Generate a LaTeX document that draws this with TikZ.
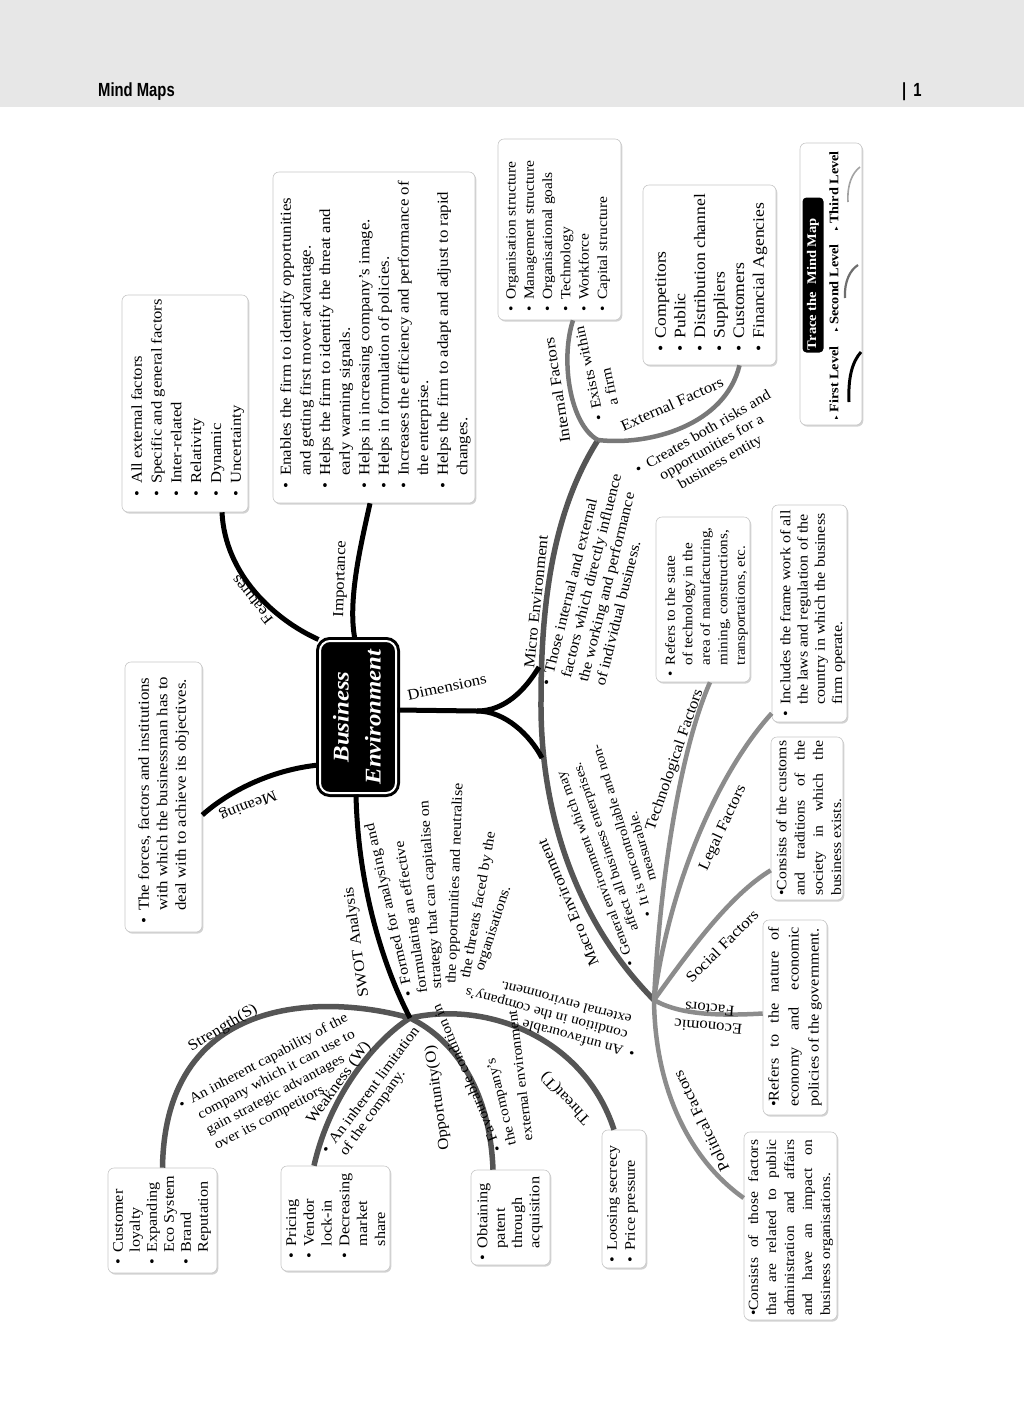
\documentclass[tikz,border=0pt]{standalone}
\usepackage{fontspec}
\setmainfont[FakeStretch=1.1]{Liberation Serif}
\newfontfamily\hdrfont[FakeStretch=0.78]{Liberation Sans}
\newfontfamily\symfont{DejaVu Sans}
\usetikzlibrary{shadows,calc}
\definecolor{hdrgray}{RGB}{231,231,231}
\definecolor{lvtwo}{RGB}{85,85,85}
\definecolor{lvint}{RGB}{120,120,120}
\definecolor{lvthree}{RGB}{140,140,140}
\newcommand\fz[2]{\fontsize{#1}{#2}\selectfont}
\newcommand\bu{\makebox[0.85em][l]{\textbullet}}
\newcommand\ii{\hspace*{0.85em}}
\newcommand\jl[2]{\makebox[#1][s]{#2}}
\begin{document}
\begin{tikzpicture}[x=1pt,y=-1pt,
 card/.style={draw=black!22, line width=0.6pt, fill=white, rounded corners=6pt, drop shadow={shadow xshift=1.3pt, shadow yshift=-1.6pt, opacity=0.35}, inner sep=0pt},
 vtxt/.style={rotate=90, anchor=north west, align=left, inner sep=0pt},
 lab/.style={font=\fz{15.3}{18}, inner sep=0pt},
 dtxt/.style={font=\fz{14.5}{17}, inner sep=0pt, align=left},
 first/.style={draw=black, line width=5pt},
 second/.style={draw=lvtwo, line width=5.5pt},
 thirdi/.style={draw=lvint, line width=4.5pt},
 third/.style={draw=lvthree, line width=4.5pt},
 lvtext/.style={rotate=90, inner sep=0pt, font=\bfseries\fz{13}{14}},
]
\useasboundingbox (0,0) rectangle (1024,1409);
\fill[white] (0,0) rectangle (1024,1409);
% header
\fill[hdrgray] (0,0) rectangle (1024,107);
\node[anchor=base west, inner sep=0pt, font=\hdrfont\bfseries\fz{19}{20}] (hdr) at (98,96) {Mind Maps};
\node[anchor=base west, inner sep=0pt, font=\hdrfont\bfseries\fz{19}{20}] (pgno) at (902,96) {|\hspace{7pt}1};
% legend
\node[card, minimum width=62, minimum height=282] (legbox) at (831,284) {};
\node[fill=black, rounded corners=4pt, minimum width=21, minimum height=155, inner sep=0pt] (pill) at (813,275) {};
\node[rotate=90, text=white, inner sep=0pt, font=\bfseries\fz{13.2}{14}] (trace) at (813,284) {Trace the\ \ Mind Map};
\node[lvtext] (lvA) at (834,383) {{\symfont\fz{7}{8}▸} First Level};
\node[lvtext] (lvB) at (834,288) {{\symfont\fz{7}{8}▸} Second Level};
\node[lvtext] (lvC) at (834,191) {{\symfont\fz{7}{8}▸} Third Level};
\draw[black, line width=3pt] (849,402) .. controls (848,378) and (852,362) .. (861,352);
\draw[lvtwo!85, line width=2.2pt] (845,298) .. controls (844,282) and (850,270) .. (858,265);
\draw[lvthree!80, line width=1.6pt] (848,202) .. controls (847,185) and (852,173) .. (860,167);

% boxes
\node[card, minimum width=126, minimum height=217] (featbox) at (185,403.5) {};
\node[vtxt, font=\fz{15.1}{19.8}] (feattxt) at (131,497) {\bu All external factors\\\bu Specific and general factors\\\bu Inter-related\\\bu Relativity\\\bu Dynamic\\\bu Uncertainty};

\node[card, minimum width=202, minimum height=331] (impbox) at (374,337.5) {};
\node[vtxt, font=\fz{15.3}{19.6}] (imptxt) at (280,489) {\bu Enables the firm to identify opportunities\\\ii and getting first mover advantage.\\\bu Helps the firm to identify the threat and\\\ii early warning signals.\\\bu Helps in increasing company’s image.\\\bu Helps in formulation of policies.\\\bu Increases the efficiency and performance of\\\ii the enterprise.\\\bu Helps the firm to adapt and adjust to rapid\\\ii changes.};

\node[card, minimum width=123, minimum height=181] (intlbox) at (559.5,229.5) {};
\node[vtxt, font=\fz{14.1}{18.3}] (intltxt) at (506,312) {\bu Organisation structure\\\bu Management structure\\\bu Organisational goals\\\bu Technology\\\bu Workforce\\\bu Capital structure};

\node[card, minimum width=133, minimum height=180] (extlbox) at (709.5,275) {};
\node[vtxt, font=\fz{16}{19.6}] (extltxt) at (655,352) {\bu Competitors\\\bu Public\\\bu Distribution channel\\\bu Suppliers\\\bu Customers\\\bu Financial Agencies};

\node[card, minimum width=77, minimum height=270] (meanbox) at (163.5,797) {};
\node[vtxt, font=\fz{15.3}{18.5}] (meantxt) at (138,924) {\bu The forces, factors and institutions\\\ii with which the businessman has to\\\ii deal with to achieve its objectives.};

\node[card, minimum width=94, minimum height=165] (techbox) at (703,599.5) {};
\node[vtxt, font=\fz{13.8}{17.5}] (techtxt) at (665,677) {\bu Refers to the state\\\ii of technology in the\\\ii area of manufacturing,\\\ii mining, constructions,\\\ii transportations, etc.};

\node[card, minimum width=75, minimum height=217] (legalbox) at (809.5,613.5) {};
\node[vtxt, font=\fz{14.6}{17.2}] (legaltxt) at (780,717) {\bu Includes the frame work of all\\\ii the laws and regulation of the\\\ii country in which the business\\\ii firm operate.};

\node[card, minimum width=72, minimum height=163] (socbox) at (807,818.5) {};
\node[vtxt, font=\fz{14.3}{18.3}] (soctxt) at (776,896) {\jl{155pt}{\textbullet Consists of the customs}\\\jl{155pt}{and traditions of the}\\\jl{155pt}{society in which the}\\business exists.};

\node[card, minimum width=64, minimum height=195] (econbox) at (795,1017.5) {};
\node[vtxt, font=\fz{14.8}{20}] (econtxt) at (768,1107) {\jl{180pt}{\textbullet Refers to the nature of}\\\jl{180pt}{economy and economic}\\policies of the government.};

\node[card, minimum width=93, minimum height=188] (polbox) at (790.5,1226) {};
\node[vtxt, font=\fz{14.1}{18}] (poltxt) at (748,1316) {\jl{176pt}{\textbullet Consists of those factors}\\\jl{176pt}{that are related to public}\\\jl{176pt}{administration and affairs}\\\jl{176pt}{and have an impact on}\\business organisations.};

\node[card, minimum width=109, minimum height=105] (strbox) at (162.5,1220.5) {};
\node[vtxt, font=\fz{14.7}{17}] (strtxt) at (113,1265) {\bu Customer\\\ii loyalty\\\bu Expanding\\\ii Eco System\\\bu Brand\\\ii Reputation};

\node[card, minimum width=109, minimum height=105] (weakbox) at (335.5,1218.5) {};
\node[vtxt, font=\fz{14.8}{17.8}] (weaktxt) at (286,1259) {\bu Pricing\\\bu Vendor\\\ii lock-in\\\bu Decreasing\\\ii market\\\ii share};

\node[card, minimum width=79, minimum height=95] (oppbox) at (510.5,1217.5) {};
\node[vtxt, font=\fz{14.8}{17.3}] (opptxt) at (477,1261) {\bu Obtaining\\\ii patent\\\ii through\\\ii acquisition};

\node[card, minimum width=44, minimum height=138] (loosbox) at (624,1199) {};
\node[vtxt, font=\fz{14.6}{18}] (loostxt) at (607,1263) {\bu Loosing secrecy\\\bu Price pressure};

% hubs
\coordinate (dimsplit) at (477,711);
\coordinate (mie) at (539,667);
\coordinate (mae) at (542,758);
\coordinate (mj) at (598,440);
\coordinate (gmid) at (541,700);
\coordinate (mh) at (654,1000);
\coordinate (sh) at (410,1018);

% second/third level connectors
\draw[second] (mj) .. controls (560,500) and (541,580) .. (gmid) .. controls (540,820) and (580,925) .. (mh);
\draw[thirdi] (mj) .. controls (570,425) and (560,360) .. ([xshift=13.5pt]intlbox.south);
\draw[thirdi] (mj) .. controls (650,446) and (725,425) .. ([xshift=30pt]extlbox.south);
\draw[third] (mh) .. controls (660,880) and (680,750) .. ([xshift=7pt]techbox.south);
\draw[third] (mh) .. controls (670,880) and (720,770) .. ([yshift=9pt]legalbox.south west);
\draw[third] (mh) .. controls (690,950) and (730,895) .. ([yshift=30pt]socbox.south west);
\draw[third] (mh) .. controls (680,1015) and (720,1016) .. ([yshift=4pt]econbox.west);
\draw[third] (mh) .. controls (655,1090) and (690,1160) .. ([yshift=28pt]polbox.west);
\draw[second] (sh) .. controls (330,995) and (165,990) .. (strbox.north);
\draw[second] (sh) .. controls (375,1040) and (330,1095) .. ([xshift=-21.5pt]weakbox.north);
\draw[second] (sh) .. controls (455,1040) and (490,1090) .. ([xshift=-17.5pt]oppbox.north);
\draw[second] (sh) .. controls (490,1000) and (585,1040) .. ([xshift=-10pt]loosbox.north);

% center
\node[fill=black, draw=black, line width=3pt, double=white, double distance=2pt, rounded corners=10pt, minimum width=76, minimum height=152, inner sep=0pt] (bebox) at (358,717) {};
\node[rotate=90, text=white, align=center, inner sep=0pt, font=\bfseries\itshape\fz{22.5}{32}] (betxt) at (357,717) {Business\\Environment};

% first level
\draw[first] ([yshift=-48pt]bebox.west) .. controls (270,770) and (228,792) .. ([yshift=-18pt]meanbox.east);
\draw[first] (bebox.north west) .. controls (275,620) and (225,575) .. ([xshift=37pt]featbox.south);
\draw[first] ([xshift=-3pt]bebox.north) .. controls (347,600) and (362,540) .. ([xshift=-4pt]impbox.south);
\draw[first] ([yshift=7pt]bebox.east) -- (dimsplit);
\draw[first] (dimsplit) .. controls (505,711) and (525,690) .. (mie);
\draw[first] (dimsplit) .. controls (505,711) and (530,735) .. (mae);
\draw[first] ([xshift=-2pt]bebox.south) .. controls (358,890) and (385,970) .. (sh);

% labels
\node[lab, rotate=202] (lmean) at (248,805) {Meaning};
\node[lab, rotate=129] (lfeat) at (252,600) {Features};
\node[lab, rotate=88] (limp) at (341,579) {Importance};
\node[lab, rotate=12] (ldim) at (447,687) {Dimensions};
\node[lab, rotate=84] (lmicro) at (536,602) {Micro Environment};
\node[dtxt, font=\fz{15}{17.5}, rotate=76] (dmicro) at (598,584) {\bu Those internal and external\\\ii factors which directly influence\\\ii the working and performance\\\ii of individual business.};
\node[lab, rotate=99] (lint) at (557,390) {Internal Factors};
\node[dtxt, rotate=102, anchor=west] (dintA) at (599,421) {\bu Exists within};
\node[dtxt, rotate=102, anchor=west] (dintB) at (616,418) {\ii a firm};
\node[lab, rotate=24] (lext) at (672,404) {External Factors};
\node[dtxt, rotate=30, align=center] (dext) at (712,448) {\bu Creates both risks and\\opportunities for a\\business entity};
\node[lab, rotate=113] (lmacro) at (568,903) {Macro Environment};
\node[dtxt, font=\fz{13.5}{16}, rotate=110, anchor=west] (dmacA) at (632,966) {\bu General environment which may};
\node[dtxt, font=\fz{13.5}{16}, rotate=109, anchor=west] (dmacB) at (639,942) {\ii affect all business enterprises.};
\node[dtxt, font=\fz{13.5}{16}, rotate=107, anchor=west] (dmacC) at (648,917) {\bu It is uncontrollable and non-};
\node[dtxt, font=\fz{13.5}{16}, rotate=106, anchor=west] (dmacD) at (655,892) {\ii measurable.};
\node[lab, rotate=71] (ltech) at (675,760) {Technological Factors};
\node[lab, rotate=65] (llegal) at (723,828) {Legal Factors};
\node[lab, rotate=45] (lsoc) at (722,946) {Social Factors};
\node[lab, rotate=175, align=center] (lecon) at (709,1018) {Economic\\Factors};
\node[lab, rotate=116] (lpol) at (701,1121) {Political Factors};
\node[lab, rotate=98] (lswot) at (357,942) {SWOT Analysis};
\node[dtxt, rotate=103, anchor=west] (dswotA) at (410,996) {\bu Formed for analysing and};
\node[dtxt, rotate=99, anchor=west] (dswotB) at (424,993) {formulating an effective};
\node[dtxt, rotate=94, anchor=west] (dswotC) at (438,989) {strategy that can capitalise on};
\node[dtxt, rotate=88, anchor=west] (dswotD) at (452,984) {the opportunities and neutralise};
\node[dtxt, rotate=80, anchor=west] (dswotE) at (466,978) {the threats faced by the};
\node[dtxt, rotate=72, anchor=west] (dswotF) at (480,971) {organisations.};
\node[lab, rotate=31] (lstr) at (223,1028) {Strength(S)};
\node[dtxt, rotate=28, font=\fz{14}{17.5}] (dstr) at (276,1085) {\bu An inherent capability of the\\\ii company which it can use to\\\ii gain strategic advantages\\\ii over its competitors.};
\node[lab, rotate=54] (lweak) at (339,1083) {Weakness (W)};
\node[dtxt, rotate=53.5] (dweakA) at (370,1090) {\bu An inherent limitation};
\node[dtxt, rotate=54.5] (dweakB) at (373,1113) {of the company.};
\node[lab, rotate=98] (lopp) at (438,1098) {Opportunity(O)};
\node[dtxt, font=\fz{14}{16}, rotate=113, anchor=west] (doppA) at (498,1152) {\bu Favourable condition in};
\node[dtxt, font=\fz{14}{16}, rotate=104, anchor=west] (doppB) at (513,1145) {the company's};
\node[dtxt, font=\fz{14}{16}, rotate=97, anchor=west] (doppC) at (528,1141) {external environment.};
\node[lab, rotate=133] (lthr) at (566,1098) {Threat(T)};
\node[dtxt, font=\fz{14}{16}, rotate=165] (dthr) at (552,1016) {\bu An unfavourable\\\ii condition in the company's\\\ii external environment.};
\end{tikzpicture}
\end{document}
